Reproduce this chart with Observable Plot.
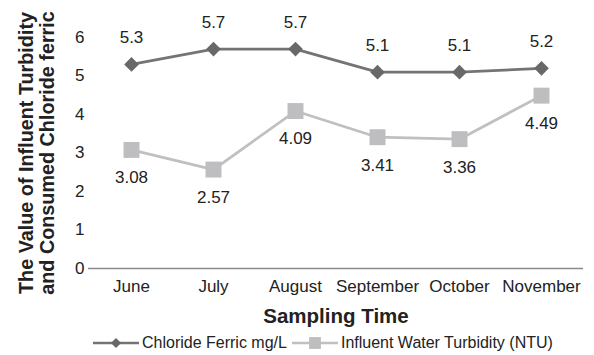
<!DOCTYPE html>
<html>
<head>
<meta charset="utf-8">
<script src="https://cdn.jsdelivr.net/npm/d3@7"></script>
<script src="https://cdn.jsdelivr.net/npm/@observablehq/plot@0.6"></script>
<style>
  html, body { margin: 0; padding: 0; background: #fff; }
  body { width: 594px; height: 355px; overflow: hidden; font-family: "Liberation Sans", Arial, sans-serif; }
  #legend { display: flex; justify-content: flex-start; align-items: center; height: 25px; font-size: 16px; color: #222; padding-left: 93px; }
  #legend .item { display: flex; align-items: center; margin-right: 5px; white-space: nowrap; }
  #legend svg { display: block; margin-right: 3px; }
</style>
</head>
<body>
<div id="chart"></div>
<div id="legend"></div>
<script>
const months = ["June", "July", "August", "September", "October", "November"];
const chlorideFerric = [5.3, 5.7, 5.7, 5.1, 5.1, 5.2];
const turbidity = [3.08, 2.57, 4.09, 3.41, 3.36, 4.49];
const yTicks = [0, 1, 2, 3, 4, 5, 6];
const seriesNames = ["Chloride Ferric mg/L", "Influent Water Turbidity (NTU)"];

const darkLine = "#747474", darkMark = "#686868";
const lightLine = "#c0c0c0", lightMark = "#bebec0";

const chl = months.map((m, i) => ({month: m, value: chlorideFerric[i]}));
const tur = months.map((m, i) => ({month: m, value: turbidity[i]}));

const plot = Plot.plot({
  width: 594,
  height: 330,
  marginLeft: 88,
  marginRight: 11,
  marginTop: 37,
  marginBottom: 62,
  style: {fontFamily: "Liberation Sans, Arial, sans-serif", fontSize: "17px", color: "#222", background: "#fff"},
  x: {type: "band", domain: months, padding: 0, label: null},
  y: {domain: [0, 6], label: null},
  marks: [
    Plot.axisY({ticks: yTicks, tickSize: 0, tickPadding: 4, tickFormat: d => String(d), label: null, fontSize: 17}),
    Plot.axisX({tickSize: 0, tickPadding: 11, label: null, fontSize: 17}),
    Plot.ruleY([0], {stroke: "#8a8a8a", strokeWidth: 1.5}),
    Plot.line(tur, {x: "month", y: "value", stroke: lightLine, strokeWidth: 2.8}),
    Plot.dot(tur, {x: "month", y: "value", symbol: "square", r: 9, fill: lightMark, stroke: "none"}),
    Plot.line(chl, {x: "month", y: "value", stroke: darkLine, strokeWidth: 2.8}),
    Plot.dot(chl, {x: "month", y: "value", symbol: "diamond2", r: 6.6, fill: darkMark, stroke: "none"}),
    Plot.text(chl, {x: "month", y: "value", text: d => String(d.value), dy: -27, fontSize: 17, fill: "#222"}),
    Plot.text(tur, {x: "month", y: "value", text: d => String(d.value), dy: 28, fontSize: 17, fill: "#222"}),
    Plot.text(["The Value of Influent Turbidity\nand Consumed Chloride ferric"], {
      frameAnchor: "left", rotate: -90, dx: -52, dy: 0, fontSize: 19.8, fontWeight: "bold",
      lineHeight: 1.06, fill: "#222", textAnchor: "middle"
    }),
    Plot.text(["Sampling Time"], {
      frameAnchor: "bottom", dy: 54, fontSize: 20.5, fontWeight: "bold", fill: "#222"
    })
  ]
});
document.getElementById("chart").appendChild(plot);

// Legend
const legend = d3.select("#legend");
const symbols = [
  {name: seriesNames[0], line: darkLine, mark: darkMark, type: d3.symbolDiamond2, size: Math.PI * 6.2 * 6.2 * 0.55},
  {name: seriesNames[1], line: lightLine, mark: lightMark, type: d3.symbolSquare, size: Math.PI * 9 * 9 * 0.55}
];
symbols.forEach(s => {
  const item = legend.append("div").attr("class", "item");
  const svg = item.append("svg").attr("width", 46).attr("height", 14);
  svg.append("line").attr("x1", 0).attr("x2", 46).attr("y1", 7).attr("y2", 7)
    .attr("stroke", s.line).attr("stroke-width", 2.5);
  svg.append("path").attr("transform", "translate(23,7)")
    .attr("d", d3.symbol(s.type, s.size)()).attr("fill", s.mark);
  item.append("span").text(s.name);
});
</script>
</body>
</html>
